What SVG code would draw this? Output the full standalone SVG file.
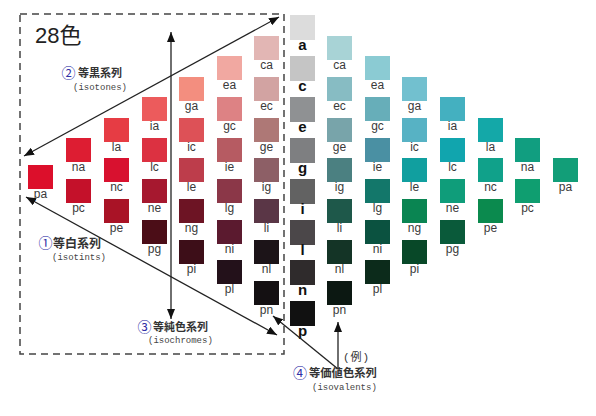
<svg xmlns="http://www.w3.org/2000/svg" width="596" height="416" viewBox="0 0 596 416">
<style>
.lb{font-family:"Liberation Sans",Arial,sans-serif;font-size:12px;fill:#3a3a3a;text-anchor:middle}
.gl{font-family:"Liberation Sans",Arial,sans-serif;font-size:15px;font-weight:bold;fill:#111;text-anchor:middle}
.cn{font-family:"Noto Sans CJK JP",sans-serif;font-weight:bold;fill:#333}
.num{font-family:"Noto Sans CJK JP",sans-serif;font-size:14px;fill:#2f2fa6}
.en{font-family:"Liberation Mono","Courier New",monospace;font-size:9px;fill:#444}
.ln{stroke:#222;stroke-width:1.3;fill:none}
</style>
<defs>
<marker id="ah" viewBox="0 0 10 8" refX="10" refY="4" markerWidth="10" markerHeight="8" markerUnits="userSpaceOnUse" orient="auto-start-reverse">
<path d="M0,0 L10,4 L0,8 z" fill="#111"/>
</marker>
</defs>
<rect width="596" height="416" fill="#fff"/>
<rect x="20" y="14" width="264" height="340" fill="none" stroke="#444" stroke-width="1.5" stroke-dasharray="7 5"/>
<text x="35" y="43" style="font-family:'Liberation Sans','Noto Sans CJK JP',sans-serif;font-size:22px;fill:#222">28色</text>

<!-- gray column -->
<g id="gray-a"><rect x="290" y="15" width="25" height="25" fill="#dcdcdc"/><text class="gl" x="302.5" y="50">a</text></g>
<g id="gray-c"><rect x="290" y="56" width="25" height="25" fill="#c5c5c5"/><text class="gl" x="302.5" y="91">c</text></g>
<g id="gray-e"><rect x="290" y="97" width="25" height="25" fill="#8f9193"/><text class="gl" x="302.5" y="132">e</text></g>
<g id="gray-g"><rect x="290" y="138" width="25" height="25" fill="#7e7f81"/><text class="gl" x="302.5" y="173">g</text></g>
<g id="gray-i"><rect x="290" y="179" width="25" height="25" fill="#626262"/><text class="gl" x="302.5" y="214">i</text></g>
<g id="gray-l"><rect x="290" y="220" width="25" height="25" fill="#4b4749"/><text class="gl" x="302.5" y="255">l</text></g>
<g id="gray-n"><rect x="290" y="260" width="25" height="25" fill="#2f2b2c"/><text class="gl" x="302.5" y="295">n</text></g>
<g id="gray-p"><rect x="290" y="301" width="25" height="25" fill="#111111"/><text class="gl" x="302.5" y="336">p</text></g>

<!-- red side -->
<g id="r-ca"><rect x="254" y="36" width="25" height="24" fill="#e2b6b4"/><text class="lb" x="266.5" y="69">ca</text></g>
<g id="r-ec"><rect x="254" y="77" width="25" height="24" fill="#d2a3a2"/><text class="lb" x="266.5" y="110">ec</text></g>
<g id="r-ge"><rect x="254" y="118" width="25" height="24" fill="#ae7876"/><text class="lb" x="266.5" y="151">ge</text></g>
<g id="r-ig"><rect x="254" y="158" width="25" height="24" fill="#8d5f66"/><text class="lb" x="266.5" y="191">ig</text></g>
<g id="r-li"><rect x="254" y="199" width="25" height="24" fill="#5a3646"/><text class="lb" x="266.5" y="232">li</text></g>
<g id="r-nl"><rect x="254" y="240" width="25" height="24" fill="#1c1418"/><text class="lb" x="266.5" y="273">nl</text></g>
<g id="r-pn"><rect x="254" y="281" width="25" height="24" fill="#141012"/><text class="lb" x="266.5" y="314">pn</text></g>

<g id="r-ea"><rect x="217" y="56" width="25" height="24" fill="#f1a8a1"/><text class="lb" x="229.5" y="89">ea</text></g>
<g id="r-gc"><rect x="217" y="97" width="25" height="24" fill="#dd8284"/><text class="lb" x="229.5" y="130">gc</text></g>
<g id="r-ie"><rect x="217" y="138" width="25" height="24" fill="#b65b62"/><text class="lb" x="229.5" y="171">ie</text></g>
<g id="r-lg"><rect x="217" y="179" width="25" height="24" fill="#8b3748"/><text class="lb" x="229.5" y="212">lg</text></g>
<g id="r-ni"><rect x="217" y="220" width="25" height="24" fill="#5b1a2f"/><text class="lb" x="229.5" y="253">ni</text></g>
<g id="r-pl"><rect x="217" y="260" width="25" height="24" fill="#23111a"/><text class="lb" x="229.5" y="293">pl</text></g>

<g id="r-ga"><rect x="179" y="77" width="25" height="24" fill="#f38e7f"/><text class="lb" x="191.5" y="110">ga</text></g>
<g id="r-ic"><rect x="179" y="118" width="25" height="24" fill="#dd5157"/><text class="lb" x="191.5" y="151">ic</text></g>
<g id="r-le"><rect x="179" y="158" width="25" height="24" fill="#bd3d4b"/><text class="lb" x="191.5" y="191">le</text></g>
<g id="r-ng"><rect x="179" y="199" width="25" height="24" fill="#6d1424"/><text class="lb" x="191.5" y="232">ng</text></g>
<g id="r-pi"><rect x="179" y="240" width="25" height="24" fill="#3d0e18"/><text class="lb" x="191.5" y="273">pi</text></g>

<g id="r-ia"><rect x="142" y="97" width="25" height="24" fill="#ec5b5c"/><text class="lb" x="154.5" y="130">ia</text></g>
<g id="r-lc"><rect x="142" y="138" width="25" height="24" fill="#dc3141"/><text class="lb" x="154.5" y="171">lc</text></g>
<g id="r-ne"><rect x="142" y="179" width="25" height="24" fill="#a6182f"/><text class="lb" x="154.5" y="212">ne</text></g>
<g id="r-pg"><rect x="142" y="220" width="25" height="24" fill="#4b0d17"/><text class="lb" x="154.5" y="253">pg</text></g>

<g id="r-la"><rect x="104" y="118" width="25" height="24" fill="#e63c44"/><text class="lb" x="116.5" y="151">la</text></g>
<g id="r-nc"><rect x="104" y="158" width="25" height="24" fill="#d8112f"/><text class="lb" x="116.5" y="191">nc</text></g>
<g id="r-pe"><rect x="104" y="199" width="25" height="24" fill="#a91326"/><text class="lb" x="116.5" y="232">pe</text></g>

<g id="r-na"><rect x="66" y="138" width="25" height="24" fill="#dd1d32"/><text class="lb" x="78.5" y="171">na</text></g>
<g id="r-pc"><rect x="66" y="179" width="25" height="24" fill="#c4112a"/><text class="lb" x="78.5" y="212">pc</text></g>

<g id="r-pa"><rect x="28" y="165" width="25" height="24" fill="#dc0f2b"/><text class="lb" x="40.5" y="198">pa</text></g>

<!-- green side -->
<g id="g-ca"><rect x="327" y="36" width="25" height="24" fill="#a8d3d6"/><text class="lb" x="339.5" y="69">ca</text></g>
<g id="g-ec"><rect x="327" y="77" width="25" height="24" fill="#87bcc3"/><text class="lb" x="339.5" y="110">ec</text></g>
<g id="g-ge"><rect x="327" y="118" width="25" height="24" fill="#78a4aa"/><text class="lb" x="339.5" y="151">ge</text></g>
<g id="g-ig"><rect x="327" y="158" width="25" height="24" fill="#4b8081"/><text class="lb" x="339.5" y="191">ig</text></g>
<g id="g-li"><rect x="327" y="199" width="25" height="24" fill="#1e584a"/><text class="lb" x="339.5" y="232">li</text></g>
<g id="g-nl"><rect x="327" y="240" width="25" height="24" fill="#143426"/><text class="lb" x="339.5" y="273">nl</text></g>
<g id="g-pn"><rect x="327" y="281" width="25" height="24" fill="#0c1812"/><text class="lb" x="339.5" y="314">pn</text></g>

<g id="g-ea"><rect x="365" y="56" width="25" height="24" fill="#8bcbd3"/><text class="lb" x="377.5" y="89">ea</text></g>
<g id="g-gc"><rect x="365" y="97" width="25" height="24" fill="#67aeb9"/><text class="lb" x="377.5" y="130">gc</text></g>
<g id="g-ie"><rect x="365" y="138" width="25" height="24" fill="#4a90a3"/><text class="lb" x="377.5" y="171">ie</text></g>
<g id="g-lg"><rect x="365" y="179" width="25" height="24" fill="#13776a"/><text class="lb" x="377.5" y="212">lg</text></g>
<g id="g-ni"><rect x="365" y="220" width="25" height="24" fill="#0b5240"/><text class="lb" x="377.5" y="253">ni</text></g>
<g id="g-pl"><rect x="365" y="260" width="25" height="24" fill="#0c2b1b"/><text class="lb" x="377.5" y="293">pl</text></g>

<g id="g-ga"><rect x="402" y="77" width="25" height="24" fill="#72c0cf"/><text class="lb" x="414.5" y="110">ga</text></g>
<g id="g-ic"><rect x="402" y="118" width="25" height="24" fill="#57b2c4"/><text class="lb" x="414.5" y="151">ic</text></g>
<g id="g-le"><rect x="402" y="158" width="25" height="24" fill="#119f9f"/><text class="lb" x="414.5" y="191">le</text></g>
<g id="g-ng"><rect x="402" y="199" width="25" height="24" fill="#0a8552"/><text class="lb" x="414.5" y="232">ng</text></g>
<g id="g-pi"><rect x="402" y="240" width="25" height="24" fill="#084828"/><text class="lb" x="414.5" y="273">pi</text></g>

<g id="g-ia"><rect x="440" y="97" width="25" height="24" fill="#44b0c0"/><text class="lb" x="452.5" y="130">ia</text></g>
<g id="g-lc"><rect x="440" y="138" width="25" height="24" fill="#11a5ae"/><text class="lb" x="452.5" y="171">lc</text></g>
<g id="g-ne"><rect x="440" y="179" width="25" height="24" fill="#0f9d7a"/><text class="lb" x="452.5" y="212">ne</text></g>
<g id="g-pg"><rect x="440" y="220" width="25" height="24" fill="#0a5a3a"/><text class="lb" x="452.5" y="253">pg</text></g>

<g id="g-la"><rect x="478" y="118" width="25" height="24" fill="#14a8a8"/><text class="lb" x="490.5" y="151">la</text></g>
<g id="g-nc"><rect x="478" y="158" width="25" height="24" fill="#10a18a"/><text class="lb" x="490.5" y="191">nc</text></g>
<g id="g-pe"><rect x="478" y="199" width="25" height="24" fill="#0b8a4e"/><text class="lb" x="490.5" y="232">pe</text></g>

<g id="g-na"><rect x="515" y="138" width="25" height="24" fill="#119e80"/><text class="lb" x="527.5" y="171">na</text></g>
<g id="g-pc"><rect x="515" y="179" width="25" height="24" fill="#0f9e70"/><text class="lb" x="527.5" y="212">pc</text></g>

<g id="g-pa"><rect x="553" y="158" width="25" height="24" fill="#129e78"/><text class="lb" x="565.5" y="191">pa</text></g>

<!-- connectors -->
<g id="connectors">
<line class="ln" x1="24" y1="156" x2="279" y2="17" marker-start="url(#ah)" marker-end="url(#ah)"/>
<line class="ln" x1="26" y1="197" x2="277" y2="335" marker-start="url(#ah)" marker-end="url(#ah)"/>
<line class="ln" x1="171" y1="32" x2="171" y2="319" marker-start="url(#ah)" marker-end="url(#ah)"/>
<line class="ln" x1="338" y1="369" x2="273" y2="316" marker-end="url(#ah)"/>
<line class="ln" x1="338" y1="369" x2="338" y2="322" marker-end="url(#ah)"/>
</g>

<!-- series labels -->
<g id="label-isotones">
<text class="num" x="61.5" y="78">②</text>
<text class="cn" x="78" y="77" font-size="11">等黒系列</text>
<text class="en" x="73" y="90">(isotones)</text>
</g>
<g id="label-isotints">
<text class="num" x="38.5" y="248">①</text>
<text class="cn" x="53" y="247.5" font-size="12">等白系列</text>
<text class="en" x="52" y="260">(isotints)</text>
</g>
<g id="label-isochromes">
<text class="num" x="137.5" y="332">③</text>
<text class="cn" x="153" y="331" font-size="11">等純色系列</text>
<text class="en" x="148" y="343">(isochromes)</text>
</g>
<g id="label-isovalents">
<text x="343" y="361" style="font-family:'Liberation Mono','Noto Sans CJK JP',monospace;font-size:11px;fill:#333;letter-spacing:1px">(例)</text>
<text class="num" x="293" y="378">④</text>
<text class="cn" x="309" y="377" font-size="11.3">等価値色系列</text>
<text class="en" x="312" y="390">(isovalents)</text>
</g>
</svg>
